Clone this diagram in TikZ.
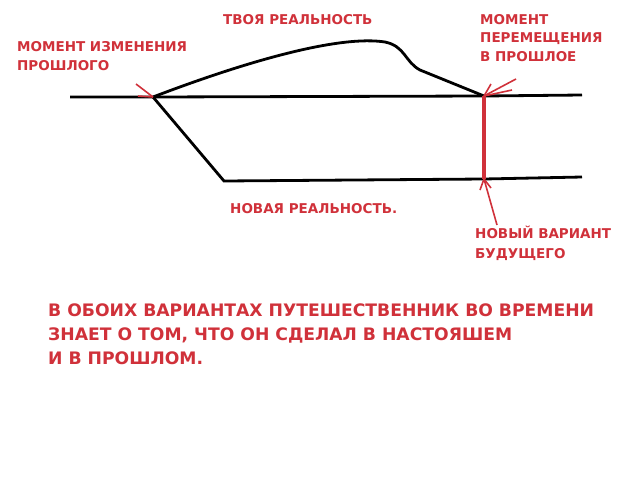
\documentclass[tikz,border=0pt]{standalone}
\usepackage{fontspec}
\setmainfont{DejaVu Sans}
\begin{document}
\begin{tikzpicture}[x=1pt,y=-1pt,
  lbl/.style={text=myred,font=\bfseries\fontsize{13.5}{19.5}\selectfont,align=left,inner sep=0pt},
  blk/.style={line width=2.8pt,black},
  rarr/.style={draw=myred,line width=1.6pt}]
\definecolor{myred}{HTML}{D0313A}
\useasboundingbox (0,0) rectangle (640,480);
\coordinate (L1) at (70,97); \coordinate (C) at (153,97); \coordinate (R1) at (582,95);
\coordinate (T) at (484,96); \coordinate (B) at (484,179);
\coordinate (L2) at (224,181); \coordinate (R2) at (582,177);
\draw[blk] (L1) -- (C) -- (T) -- (R1);
\draw[blk] (C) .. controls (250,60) and (340,35) .. (385,42) .. controls (405,46) and (405,62) .. (420,70) -- (T);
\draw[blk] (C) -- (L2) -- (B) -- (R2);
\draw[myred,line width=4pt] (T) -- (B);
\coordinate (a1) at (136,84); \draw[rarr] (a1) -- (C); \draw[rarr] (138,96) -- (C);
\coordinate (a2) at (516,79); \draw[rarr] (a2) -- (T); \draw[rarr] (512,90) -- (T); \draw[rarr] (491,84)--(T);
\coordinate (a3) at (497,225); \draw[rarr] (a3) -- (B); \draw[rarr] (480,190)--(B)--(491,188);
\node[lbl,anchor=north west] (n1) at (17,41) {МОМЕНТ ИЗМЕНЕНИЯ\\ПРОШЛОГО};
\node[lbl,anchor=north west] (n2) at (223,14) {ТВОЯ РЕАЛЬНОСТЬ};
\node[lbl,anchor=north west,font=\bfseries\fontsize{13.5}{18.5}\selectfont] (n3) at (480,14) {МОМЕНТ\\ПЕРЕМЕЩЕНИЯ\\В ПРОШЛОЕ};
\node[lbl,anchor=north west] (n4) at (230,203) {НОВАЯ РЕАЛЬНОСТЬ.};
\node[lbl,anchor=north west] (n5) at (475,226) {НОВЫЙ ВАРИАНТ\\БУДУЩЕГО};
\node[lbl,anchor=north west,font=\bfseries\fontsize{17.2}{24}\selectfont] (n6) at (48,304) {В ОБОИХ ВАРИАНТАХ ПУТЕШЕСТВЕННИК ВО ВРЕМЕНИ\\ЗНАЕТ О ТОМ, ЧТО ОН СДЕЛАЛ В НАСТОЯШЕМ\\И В ПРОШЛОМ.};
\end{tikzpicture}
\end{document}
